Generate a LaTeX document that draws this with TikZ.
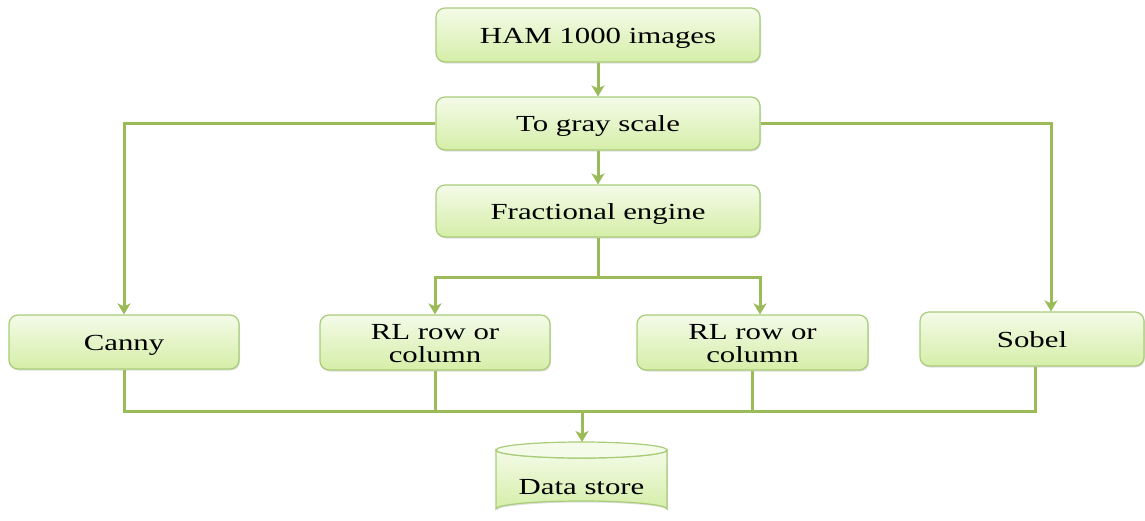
\documentclass[tikz,border=0pt]{standalone}
\usepackage{fontspec}
\setmainfont{Liberation Serif}
\usepackage{graphicx}
\usetikzlibrary{arrows.meta,shadows}
\definecolor{lin}{HTML}{9BBB59}
\definecolor{bord}{HTML}{A8CC78}
\definecolor{topc}{HTML}{F4FBE8}
\definecolor{botc}{HTML}{D5EEA8}
\newcommand\wtxt[1]{\raisebox{-3.5pt}[\dimexpr\height+3.5pt\relax][\dimexpr\depth+3.5pt\relax]{\scalebox{1.34}[1]{\begin{tabular}{@{}c@{}}#1\end{tabular}}}}
\begin{document}
\begin{tikzpicture}[x=1pt,y=-1pt,
  box/.style={rectangle,rounded corners=9pt,draw=bord,line width=1.2pt,
    top color=topc,bottom color=botc,
    drop shadow={shadow xshift=1pt,shadow yshift=-1.5pt,opacity=0.25},
    font=\fontsize{23}{23}\selectfont,inner sep=0pt},
  conn/.style={draw=lin,line width=3pt},
  arr/.style={conn,-{Stealth[length=11pt,width=13pt,inset=3pt]}}]
\useasboundingbox (0,0) rectangle (1145,520);

\node[box,minimum width=324,minimum height=54] (ham) at (598,35) {\wtxt{HAM 1000 images}};
\node[box,minimum width=324,minimum height=53] (gray) at (598,123.5) {\wtxt{To gray scale}};
\node[box,minimum width=324,minimum height=52] (frac) at (598,211) {\wtxt{Fractional engine}};
\node[box,minimum width=230,minimum height=54] (canny) at (124,342) {\wtxt{Canny}};
\node[box,minimum width=230,minimum height=55] (rl1) at (435,342.5) {\wtxt{RL row or\\column}};
\node[box,minimum width=231,minimum height=55] (rl2) at (752.5,342.5) {\wtxt{RL row or\\column}};
\node[box,minimum width=224,minimum height=54] (sobel) at (1032,339) {\wtxt{Sobel}};

% data store cylinder
\path[top color=topc,bottom color=botc,draw=bord,line width=1.2pt,
  drop shadow={shadow xshift=1pt,shadow yshift=-1.5pt,opacity=0.25}]
  (496,450) -- (496,509) arc[start angle=180,end angle=360,x radius=85.5,y radius=8]
  -- (667,450) arc[start angle=0,end angle=180,x radius=85.5,y radius=8] -- cycle;
\draw[bord,line width=1.2pt,fill=topc] (581.5,450) ellipse[x radius=85.5,y radius=8];
\node[font=\fontsize{23}{23}\selectfont,minimum width=171,minimum height=60,inner sep=0pt] (ds) at (581.5,486) {\wtxt{Data store}};
\coordinate (dstop) at (582,442);

% connectors
\draw[arr] (ham) -- (gray);
\draw[arr] (gray) -- (frac);
\draw[arr] (gray.west) -| (canny.north);
\draw[arr] (gray.east) -| ([xshift=19pt]sobel.north);
\coordinate (fj) at (598,277);
\draw[conn] (frac.south) -- (fj);
\draw[arr] (fj) -| (rl1.north);
\draw[arr] (fj) -| ([xshift=7.5pt]rl2.north);
\coordinate (bus) at (582,411);
\draw[conn] (canny.south) -- (canny.south |- bus) -- ([xshift=3pt]bus -| sobel.south) -- ([xshift=3pt]sobel.south);
\draw[conn] (rl1.south) -- (rl1.south |- bus);
\draw[conn] (rl2.south) -- (rl2.south |- bus);
\draw[arr] (bus) -- (dstop);
\end{tikzpicture}
\end{document}
